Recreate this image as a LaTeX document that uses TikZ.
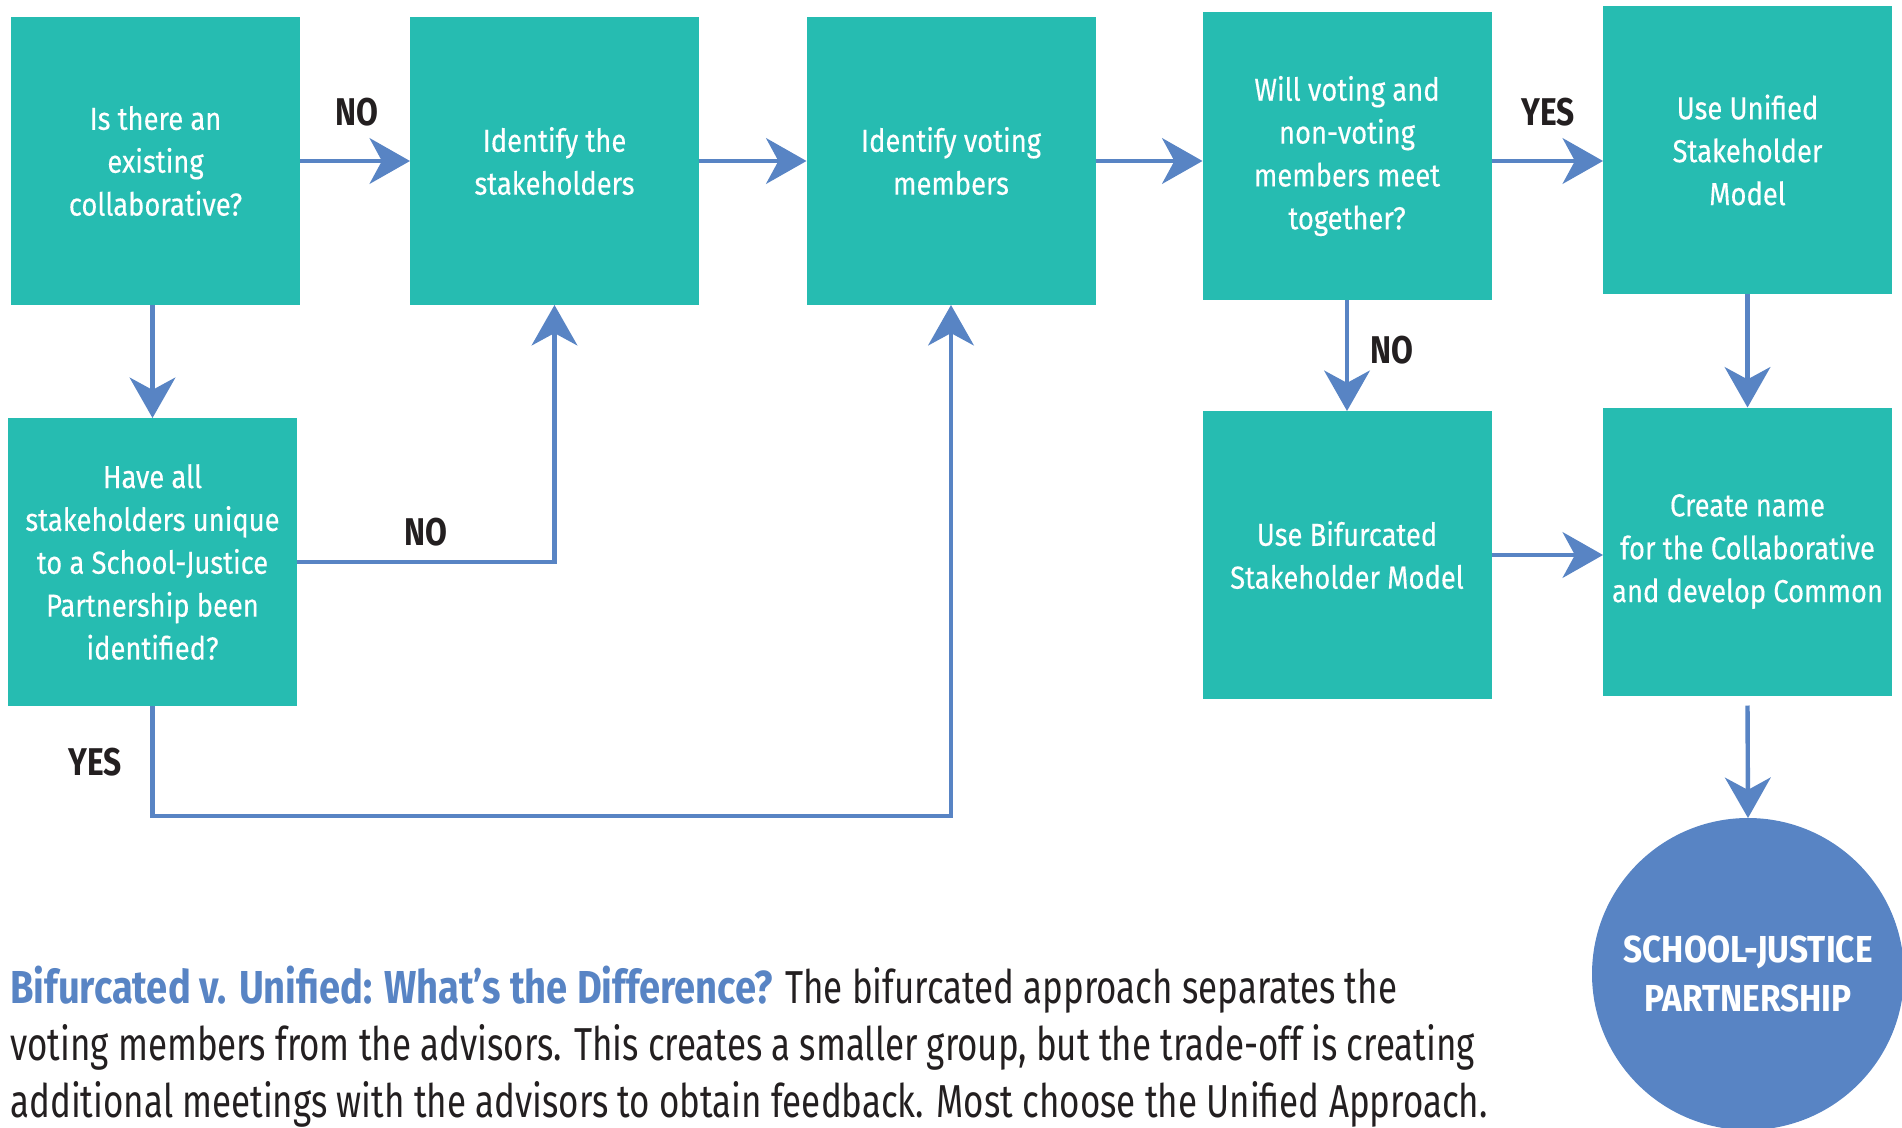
\documentclass[tikz,border=0pt]{standalone}
\usepackage{fontspec}
\setmainfont{Fira Sans}[FakeStretch=0.82]
\newfontfamily\boxfont{Fira Sans}[FakeStretch=0.86, FakeBold=0.3]
\newfontfamily\circlefont{Fira Sans}[FakeStretch=0.89]
\newfontfamily\notefont{Fira Sans}[FakeStretch=0.756]
\newfontfamily\noteheadfont{Fira Sans}[FakeStretch=0.825]
\usetikzlibrary{arrows.meta,calc}

\definecolor{boxteal}{HTML}{26BCB1}
\definecolor{flowblue}{HTML}{5884C4}
\definecolor{labelink}{HTML}{231F20}

\tikzset{
  stepbox/.style={rectangle, fill=boxteal, draw=none, outer sep=0pt, inner sep=0pt,
    minimum width=289*0.02cm, minimum height=288*0.02cm, text=white, align=center,
    font=\boxfont\fontsize{18.1}{24.4}\selectfont},
  flow/.style={draw=flowblue, line width=2.5pt,
    -{Stealth[length=23pt, width=26pt, inset=7pt]}},
  choice/.style={text=labelink, inner sep=0pt, font=\fontsize{22}{26}\selectfont\bfseries},
  endpoint/.style={circle, fill=flowblue, draw=none, outer sep=0pt, inner sep=0pt,
    minimum size=312*0.02cm, text=white, align=center,
    font=\circlefont\fontsize{21.4}{28.3}\selectfont\bfseries}
}

\begin{document}
\begin{tikzpicture}[x=0.02cm, y=-0.02cm]
  \useasboundingbox (0,0) rectangle (1902,1128);
  \clip (0,0) rectangle (1902,1128);

  % process boxes
  \node[stepbox] (b1) at (155.5,161) {Is there an\\existing\\collaborative?};
  \node[stepbox] (b2) at (554.5,161) {Identify the\\stakeholders};
  \node[stepbox] (b3) at (951,161) {Identify voting\\members};
  \node[stepbox] (b4) at (1347,156) {Will voting and\\non-voting\\members meet\\together?};
  \node[stepbox] (b5) at (1747.5,150) {Use Unified\\Stakeholder\\Model};
  \node[stepbox] (b6) at (152.5,562) {Have all\\stakeholders unique\\to a School-Justice\\Partnership been\\identified?};
  \node[stepbox] (b7) at (1347,555) {Use Bifurcated\\Stakeholder Model};
  \node[stepbox] (b8) at (1747.5,551.5) {Create name\\for the Collaborative\\and develop Common};

  % final outcome
  \node[endpoint] (sjp) at (1748,974) {SCHOOL-JUSTICE\\PARTNERSHIP};

  % connectors
  \draw[flow] (b1.east) -- (b1.east -| b2.west);
  \draw[flow] (b2.east) -- (b2.east -| b3.west);
  \draw[flow] (b3.east) -- (b3.east -| b4.west);
  \draw[flow] (b4.east |- b3.east) -- (b5.west |- b3.east);
  \draw[flow] (b6.north |- b1.south) -- (b6.north);
  \draw[flow] (b6.east) -| (b2.south);
  \coordinate (yesturn) at (153,816);
  \draw[flow] (b6.south) |- (b3.south |- yesturn) -- (b3.south);
  \draw[flow] (b4.south) -- (b7.north);
  \draw[flow] (b5.south) -- (b8.north);
  \draw[flow] (b7.east) -- (b7.east -| b8.west);
  \draw[flow] ($(b8.south)+(0,10)$) -- (sjp.north);

  % branch labels
  \node[choice] (no1) at (357,112) {NO};
  \node[choice] (yes1) at (1548,112) {YES};
  \node[choice] (no2) at (426,532) {NO};
  \node[choice] (yes2) at (95,762) {YES};
  \node[choice] (no3) at (1392,350) {NO};

  % explanatory note
  \node[anchor=north west, align=left, inner sep=0pt, text=labelink,
        font=\notefont\fontsize{26.3}{32.3}\selectfont] (note) at (10,966)
    {{\noteheadfont\bfseries\color{flowblue}Bifurcated v. Unified: What’s the Difference?} The bifurcated approach separates the\\
     voting members from the advisors. This creates a smaller group, but the trade-off is creating\\
     additional meetings with the advisors to obtain feedback. Most choose the Unified Approach.};
\end{tikzpicture}
\end{document}
